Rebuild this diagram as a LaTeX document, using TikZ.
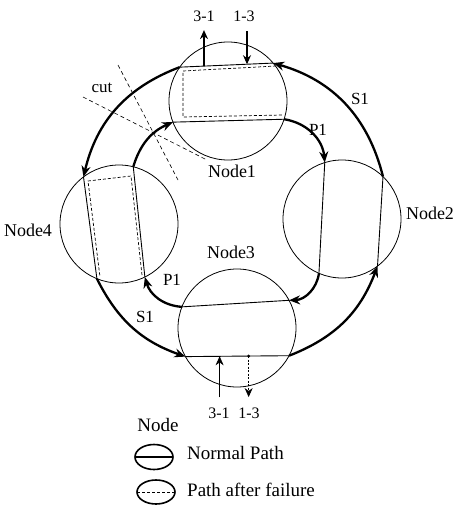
\documentclass[tikz,border=0pt]{standalone}
\usepackage{fontspec}
\setmainfont{Liberation Serif}
\usepackage{tikz}
\usetikzlibrary{arrows.meta,calc,shapes.geometric}
\tikzset{
  site/.style    ={circle,draw,line width=0.8pt,minimum size=118pt,inner sep=0pt,outer sep=0pt},
  sitelbl/.style ={font=\fontsize{18}{18}\selectfont,inner sep=1pt},
  pathlbl/.style ={font=\fontsize{17}{17}\selectfont,inner sep=1pt},
  taplbl/.style  ={font=\fontsize{16}{16}\selectfont,inner sep=1pt},
  legtxt/.style  ={font=\fontsize{19}{19}\selectfont,inner sep=1pt},
  legicon/.style ={ellipse,draw,line width=1.6pt,inner sep=0pt,outer sep=0pt,
                   minimum width=38pt,minimum height=25pt},
  trunk/.style   ={-{Stealth[length=11pt,width=9pt]},line width=2.3pt},
  lane/.style    ={line width=0.9pt},
  backup/.style  ={line width=0.7pt,dash pattern=on 3pt off 2pt},
  tap/.style     ={-{Stealth[length=9pt,width=8pt]},line width=1.1pt},
  cutline/.style ={line width=0.6pt,dash pattern=on 4pt off 3pt}
}

\begin{document}
\begin{tikzpicture}[x=1pt,y=-1pt]
  \useasboundingbox (0,0) rectangle (455,506);
  % the four nodes of the ring
  \node[site] (n1) at (228,101) {};
  \node[site] (n2) at (342,219) {};
  \node[site] (n3) at (237,328) {};
  \node[site] (n4) at (119,224) {};
  \node[sitelbl] (n1lbl) at (232,171) {Node1};
  \node[sitelbl] (n2lbl) at (430,213) {Node2};
  \node[sitelbl] (n3lbl) at (231,252) {Node3};
  \node[sitelbl] (n4lbl) at (28,230) {Node4};

  % normal paths through the nodes
  \draw[lane] (n1.145) -- (n1.40);
  \draw[lane] (n1.201) -- (n1.342);
  \draw[lane] (n2.107) -- (n2.247);
  \draw[lane] (n2.46) -- (n2.307);
  \draw[lane] (n3.159) -- (n3.28);
  \draw[lane] (n3.209) -- (n3.332);
  \draw[lane] (n4.127) -- (n4.248);
  \draw[lane] (n4.76) -- (n4.296);

  % loop-back after the failure
  \draw[backup] (276,66) -- (183,71) -- (183,117) -- (283,115);
  \draw[backup] (142,275) -- (131,176) -- (88,181) -- (100,277);

  % S1 ring (outer)
  \draw[trunk] (n3.332) to[bend right=24] (n2.307);
  \draw[trunk] (n2.46) to[bend right=30] (n1.40);
  \draw[trunk] (n1.145) to[bend right=28] (n4.127);
  \draw[trunk] (n4.248) to[bend right=22] (n3.209);
  % P1 ring (inner)
  \draw[trunk] (n1.342) to[bend left=38] (n2.107);
  \draw[trunk] (n2.247) to[bend left=40] (n3.28);
  \draw[trunk] (n3.159) to[bend left=35] (n4.296);
  \draw[trunk] (n4.76) to[bend left=25] (n1.201);

  \node[pathlbl] (s1a) at (360,99) {S1};
  \node[pathlbl] (s1b) at (145,317) {S1};
  \node[pathlbl] (p1a) at (318,130) {P1};
  \node[pathlbl] (p1b) at (172,280) {P1};

  % the cut
  \draw[cutline] (118,65) -- (178,180);
  \draw[cutline] (83,97) -- (207,160);
  \node[pathlbl] (cut) at (102,88) {cut};

  % add/drop at Node1
  \coordinate (a31) at ($(n1.145)!0.26!(n1.40)$);
  \coordinate (a13) at ($(n1.145)!0.72!(n1.40)$);
  \coordinate (a31end) at ($(a31)+(0,-36)$);
  \coordinate (a13end) at ($(a13)+(0,-33)$);
  \draw[tap] (a31) -- (a31end);
  \draw[tap] (a13end) -- (a13);
  \node[taplbl] (a31lbl) at (204,16) {3-1};
  \node[taplbl] (a13lbl) at (244,16) {1-3};

  % add/drop at Node3
  \coordinate (b31) at ($(n3.209)!0.33!(n3.332)$);
  \coordinate (b13) at ($(n3.209)!0.61!(n3.332)$);
  \coordinate (b31end) at ($(b31)+(0,41)$);
  \coordinate (b13end) at ($(b13)+(0,41)$);
  \draw[tap,line width=0.6pt] (b31end) -- (b31);
  \draw[tap,line width=0.6pt,dash pattern=on 2pt off 1.5pt] (b13) -- (b13end);
  \fill (b13) circle (1.6pt);
  \node[taplbl] (b31lbl) at (219,413) {3-1};
  \node[taplbl] (b13lbl) at (249,413) {1-3};

  % legend
  \node[legtxt] (lgnode) at (158,425) {Node};
  \node[legicon] (lg1) at (154,457) {};
  \node[legicon,minimum height=24pt] (lg2) at (156,492) {};
  \draw[line width=1.4pt] (lg1.west) -- (lg1.east);
  \draw[backup] (lg2.west) -- (lg2.east);
  \node[legtxt,anchor=west] (lg1txt) at (186,453) {Normal Path};
  \node[legtxt,anchor=west] (lg2txt) at (186,490) {Path after failure};
\end{tikzpicture}
\end{document}
